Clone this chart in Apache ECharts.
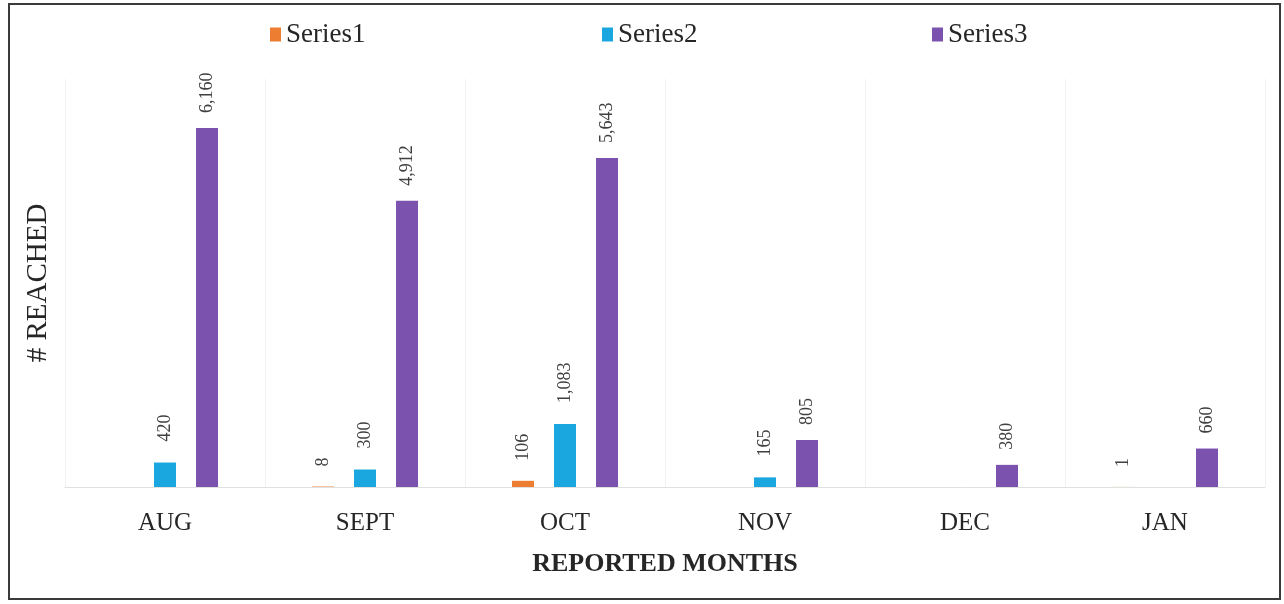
<!DOCTYPE html>
<html>
<head>
<meta charset="utf-8">
<script src="https://cdn.jsdelivr.net/npm/echarts@6/dist/echarts.min.js"></script>
<style>
    body { margin: 0; background: #fff; }
    #chart { width: 1284px; height: 604px; }
</style>
</head>
<body>
<div id="chart"></div>
<script>
// data
const months = ['AUG', 'SEPT', 'OCT', 'NOV', 'DEC', 'JAN'];
const series1 = [null, 8, 106, null, null, 1];
const series2 = [420, 300, 1083, 165, null, null];
const series3 = [6160, 4912, 5643, 805, 380, 660];
const seriesNames = ['Series1', 'Series2', 'Series3'];
const colors = ['#ED7D31', '#1AA7E0', '#7B53AF'];

const serif = '"Liberation Serif", "DejaVu Serif", serif';

const makeSeries = (name, data, color, dist) => ({
    name: name,
    type: 'bar',
    data: data,
    barWidth: 22,
    barGap: '91%',
    itemStyle: { color: color },
    label: {
        show: true,
        position: 'top',
        rotate: 90,
        align: 'left',
        verticalAlign: 'middle',
        distance: dist,
        fontFamily: serif,
        fontSize: 18,
        color: '#404040',
        formatter: (p) => p.value.toLocaleString('en-US'),
    },
});

const chart = echarts.init(document.getElementById('chart'));
const option = {
    animation: false,
    color: colors,
    legend: [
        { data: ['Series1'], left: 265, top: 16 },
        { data: ['Series2'], left: 597, top: 16 },
        { data: ['Series3'], left: 927, top: 16 },
    ].map((l) => Object.assign(l, {
        itemWidth: 11,
        itemHeight: 14,
        itemGap: 4,
        icon: 'rect',
        textStyle: { fontFamily: serif, fontSize: 27, color: '#262626' },
    })),
    grid: { left: 65, right: 19, top: 79, bottom: 117 },
    xAxis: {
        type: 'category',
        data: months,
        axisTick: { show: false },
        axisLine: { lineStyle: { color: '#e0e0e0', width: 1 } },
        splitLine: { show: true, lineStyle: { color: '#f2f2f2' } },
        axisLabel: {
            margin: 24,
            fontFamily: serif,
            fontSize: 25,
            color: '#262626',
        },
        name: 'REPORTED MONTHS',
        nameLocation: 'middle',
        nameGap: 64,
        nameTextStyle: {
            fontFamily: serif,
            fontSize: 26,
            fontWeight: 'bold',
            color: '#262626',
        },
    },
    yAxis: {
        type: 'value',
        min: 0,
        max: 7000,
        axisLabel: { show: false },
        axisLine: { show: false },
        axisTick: { show: false },
        splitLine: { show: false },
        name: '# REACHED',
        nameLocation: 'middle',
        nameGap: 12,
        nameTextStyle: {
            fontFamily: serif,
            fontSize: 29,
            color: '#262626',
        },
    },
    graphic: [
        {
            type: 'rect',
            shape: { x: 9, y: 4, width: 1271, height: 595 },
            style: { fill: 'none', stroke: '#3a3a3a', lineWidth: 2 },
            silent: true,
        },
    ],
    series: [
        makeSeries(seriesNames[0], series1, colors[0], 20),
        makeSeries(seriesNames[1], series2, colors[1], 21),
        makeSeries(seriesNames[2], series3, colors[2], 15),
    ],
};
chart.setOption(option);
</script>
</body>
</html>
